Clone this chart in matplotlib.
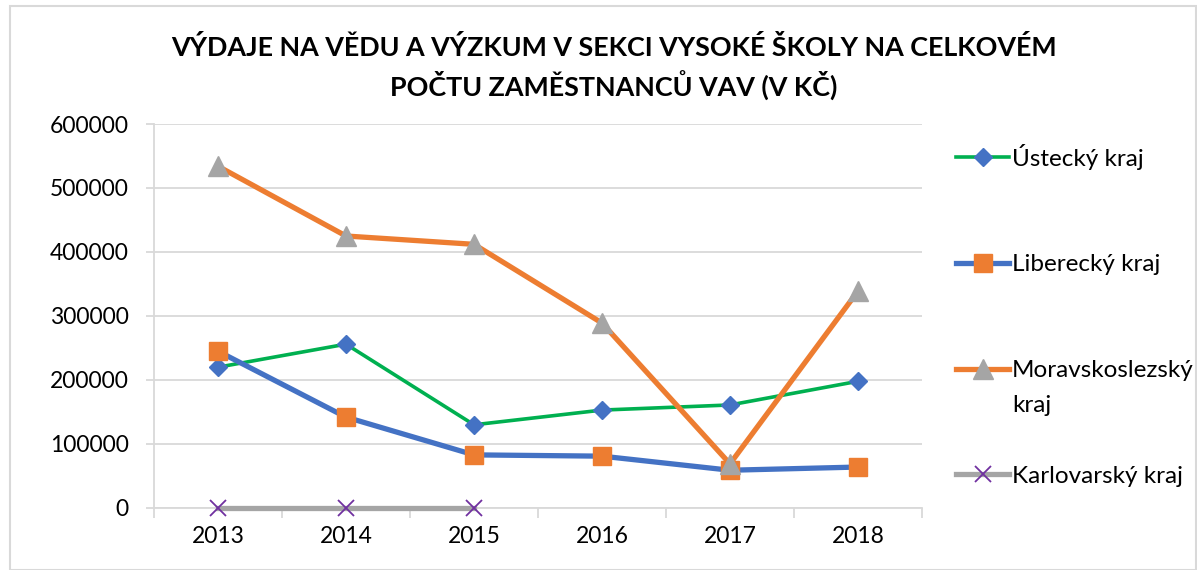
import matplotlib.pyplot as plt
from matplotlib.patches import Rectangle

years = ["2013", "2014", "2015", "2016", "2017", "2018"]
ustecky = [220000, 256000, 130000, 153000, 161000, 198000]
liberecky = [245000, 142000, 83000, 81000, 59000, 64000]
moravskoslezsky = [534000, 425000, 412000, 289000, 69000, 339000]
karlovarsky = [0, 0, 0]

plt.rcParams['font.family'] = ['Lato', 'DejaVu Sans']

fig = plt.figure(figsize=(11.97, 5.70), dpi=100)
ax = fig.add_axes([154 / 1197, 1 - 508 / 570, 768 / 1197, 384 / 570])

x = list(range(len(years)))
ax.plot(x, ustecky, color='#00B050', lw=2.6, marker='D', ms=9.5,
        mfc='#4472C4', mec='#4472C4', label='Ústecký kraj', zorder=3)
ax.plot(x, liberecky, color='#4472C4', lw=3.8, marker='s', ms=13,
        mfc='#ED7D31', mec='#ED7D31', label='Liberecký kraj', zorder=4)
ax.plot(x, moravskoslezsky, color='#ED7D31', lw=3.8, marker='^', ms=14,
        mfc='#A5A5A5', mec='#A5A5A5', label='Moravskoslezský', zorder=5)
ax.plot(x[:len(karlovarsky)], karlovarsky, color='#A5A5A5', lw=3.8, marker='x',
        ms=11, mew=1.3, mfc='#7030A0', mec='#7030A0', label='Karlovarský kraj',
        zorder=6, clip_on=False)

ax.set_xlim(-0.5, 5.5)
ax.set_ylim(0, 600000)
ax.set_yticks(range(0, 600001, 100000))
ax.set_xticks(x)
ax.set_xticklabels(years)
ax.set_xticks([i - 0.5 for i in range(7)], minor=True)
ax.grid(axis='y', color='#D9D9D9', lw=1.3)
ax.set_axisbelow(True)
for s in ['top', 'right']:
    ax.spines[s].set_visible(False)
ax.spines['left'].set_color('#D9D9D9')
ax.spines['bottom'].set_color('#D9D9D9')
ax.spines['left'].set_linewidth(1.3)
ax.spines['bottom'].set_linewidth(1.3)
ax.tick_params(axis='y', length=6, color='#D9D9D9', width=1.3, labelsize=16.5, pad=12)
ax.tick_params(axis='x', which='major', length=0, labelsize=16.5, pad=13)
ax.tick_params(axis='x', which='minor', length=7, color='#D9D9D9', width=1.3)

fig.text(0.513, 1 - 48 / 570, "VÝDAJE NA VĚDU A VÝZKUM V SEKCI VYSOKÉ ŠKOLY NA CELKOVÉM",
         ha='center', va='center', fontsize=19.4, fontweight='bold')
fig.text(0.513, 1 - 86 / 570, "POČTU ZAMĚSTNANCŮ VAV (V KČ)",
         ha='center', va='center', fontsize=19.4, fontweight='bold')

leg = fig.legend(loc='upper left', bbox_to_anchor=(934 / 1197, 1 - 122 / 570),
                 frameon=False, fontsize=17.5, handlelength=2.2, handletextpad=0.1,
                 labelspacing=3.48)

# second line of the wrapped legend label, under "Moravskoslezský"
fig.canvas.draw()
bb = leg.get_texts()[2].get_window_extent().transformed(fig.transFigure.inverted())
fig.text(bb.x0, bb.y0 - 35 / 570, "kraj", fontsize=17.5, ha='left', va='bottom')

fig.add_artist(Rectangle((10 / 1197, 0), 1186 / 1197, 1 - 6 / 570,
                         transform=fig.transFigure, fill=False,
                         edgecolor='#D9D9D9', lw=1.5))

plt.savefig("out.png")
